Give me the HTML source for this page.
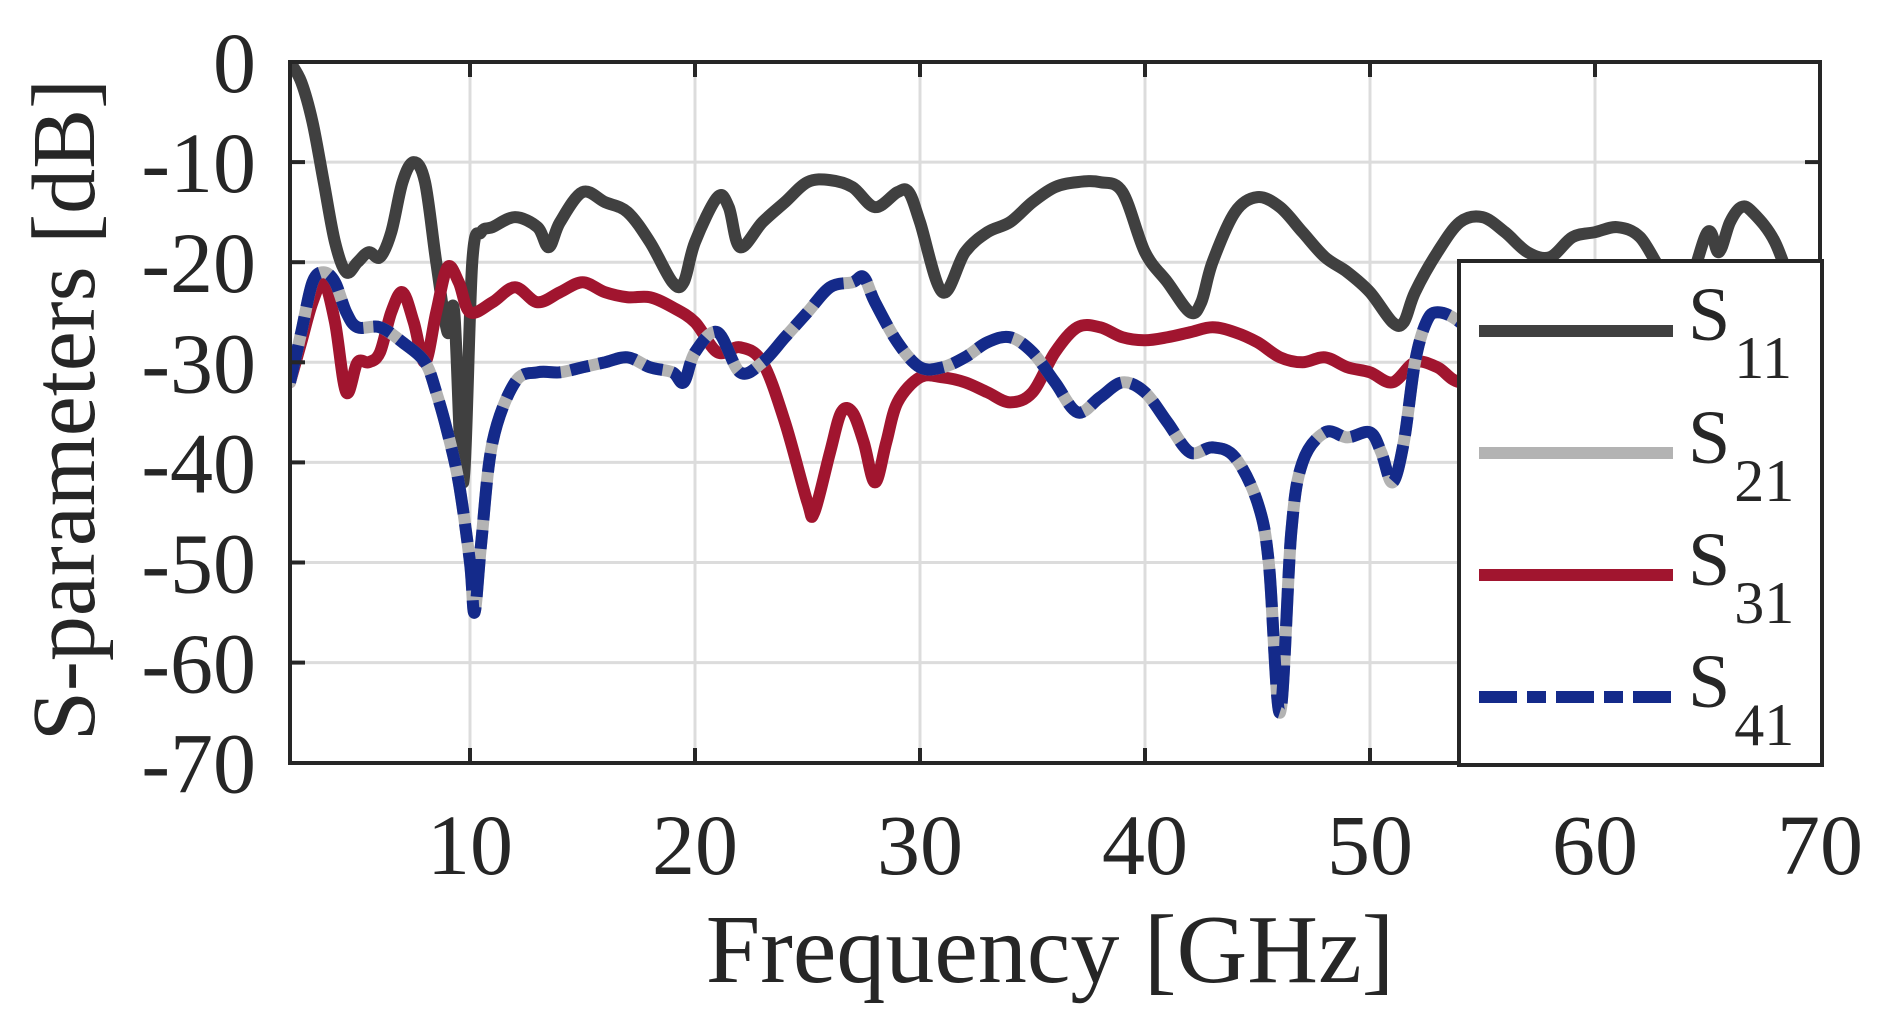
<!DOCTYPE html>
<html><head><meta charset="utf-8"><style>
html,body{margin:0;padding:0;background:#fff;}
svg{display:block;}
text{font-family:"Liberation Serif",serif;fill:#262626;}
</style></head><body>
<svg id="s" width="1883" height="1020" viewBox="0 0 1883 1020" xmlns="http://www.w3.org/2000/svg">
<defs><clipPath id="c"><rect x="290" y="62" width="1530" height="701"/></clipPath></defs>
<g id="grid" stroke="#dcdcdc" stroke-width="3"></g>
<g clip-path="url(#c)" fill="none" stroke-linejoin="round" stroke-linecap="round">
<path id="p11" stroke="#404040" stroke-width="12"/>
<path id="p31" stroke="#a1152f" stroke-width="12"/>
<path id="p21" stroke="#b3b3b3" stroke-width="12"/>
<path id="p41" stroke="#142a8a" stroke-width="12" stroke-linecap="butt" stroke-dasharray="38 10 19 10"/>
</g>
<rect x="290" y="62" width="1530" height="701" fill="none" stroke="#262626" stroke-width="4"/>
<g id="ticks" stroke="#262626" stroke-width="4"></g>
<g id="labels" font-size="86"></g>
<text x="1050" y="982" font-size="98" text-anchor="middle">Frequency [GHz]</text>
<text transform="translate(94,410) rotate(-90)" font-size="90" text-anchor="middle">S-parameters [dB]</text>
<rect x="1459" y="261" width="363" height="504" fill="#fff" stroke="#262626" stroke-width="4"/>
<g stroke-width="12">
<line x1="1479" y1="331" x2="1673" y2="331" stroke="#404040"/>
<line x1="1479" y1="453" x2="1673" y2="453" stroke="#b3b3b3"/>
<line x1="1479" y1="575" x2="1673" y2="575" stroke="#a1152f"/>
<line x1="1479" y1="697" x2="1673" y2="697" stroke="#142a8a" stroke-dasharray="38 10 19 10"/>
</g>
<g font-size="76" fill="#000">
<text x="1688" y="340">S<tspan font-size="60" dx="4" dy="38">11</tspan></text>
<text x="1688" y="463">S<tspan font-size="60" dx="4" dy="38">21</tspan></text>
<text x="1688" y="585">S<tspan font-size="60" dx="4" dy="38">31</tspan></text>
<text x="1688" y="707">S<tspan font-size="60" dx="4" dy="38">41</tspan></text>
</g>
</svg>
<script>
var NS="http://www.w3.org/2000/svg";
function X(f){return 290+(f-2)*22.5;}
function Y(d){return 62-d*10.01;}
var g=document.getElementById('grid'),t=document.getElementById('ticks'),L=document.getElementById('labels');
function el(p,tag,a,txt){var e=document.createElementNS(NS,tag);for(var k in a)e.setAttribute(k,a[k]);if(txt!=null)e.textContent=txt;p.appendChild(e);}
for(var f=10;f<=60;f+=10){el(g,'line',{x1:X(f),y1:62,x2:X(f),y2:763});el(t,'line',{x1:X(f),y1:62,x2:X(f),y2:77});el(t,'line',{x1:X(f),y1:763,x2:X(f),y2:748});}
for(var f=10;f<=70;f+=10)el(L,'text',{x:X(f),y:874,'text-anchor':'middle'},String(f));
for(var d=-10;d>=-60;d-=10){el(g,'line',{x1:290,y1:Y(d),x2:1820,y2:Y(d)});el(t,'line',{x1:290,y1:Y(d),x2:305,y2:Y(d)});el(t,'line',{x1:1820,y1:Y(d),x2:1805,y2:Y(d)});}
for(var d=0;d>=-70;d-=10)el(L,'text',{x:256,y:Y(d)+30,'text-anchor':'end'},d==0?'0':'-'+(-d));
function path(a){var p=[];for(var i=0;i<a.length;i+=2)p.push([X(a[i]),Y(a[i+1])]);
var s='M'+p[0][0]+' '+p[0][1];for(var i=0;i<p.length-1;i++){var p0=p[i-1]||p[i],p1=p[i],p2=p[i+1],p3=p[i+2]||p2;
s+=' C'+(p1[0]+(p2[0]-p0[0])/6)+' '+(p1[1]+(p2[1]-p0[1])/6)+' '+(p2[0]-(p3[0]-p1[0])/6)+' '+(p2[1]-(p3[1]-p1[1])/6)+' '+p2[0]+' '+p2[1];}return s;}
var s11=[2,0,2.5,-2,3,-6,3.5,-12,4,-18,4.5,-21,5,-20,5.5,-19,6,-19.5,6.5,-17,7,-12,7.5,-10,8,-12,8.5,-20,9,-27,9.3,-25,9.7,-42,10.1,-20,10.5,-17,11,-16.5,12,-15.5,13,-16.5,13.5,-18.5,14,-16,15,-13,16,-14,17,-15,18,-18,19,-22,19.5,-22,20,-18,21,-13.5,21.5,-14.5,22,-18.5,23,-16,24,-14,25,-12,26,-11.8,27,-12.5,28,-14.5,29,-13,29.5,-13,30,-16,31,-23,32,-19,33,-17,34,-16,35,-14,36,-12.5,37,-12,38,-12,39,-13,40,-19,41,-22,42,-25,42.5,-24,43,-20,44,-15,45,-13.5,46,-14.5,47,-17,48,-19.5,49,-21,50,-23,51,-26,51.5,-26,52,-23,53,-19,54,-16,55,-15.5,56,-17,57,-19,58,-19.5,59,-17.5,60,-17,61,-16.5,62,-17.5,63,-21,64,-23,65,-17,65.5,-19,66,-16,66.5,-14.5,67,-15,68,-18,69,-24,70,-29];
var s31=[2,-32,2.5,-28,3,-24,3.5,-22,4,-26,4.5,-33,5,-30,5.5,-30,6,-29,6.5,-25,7,-23,7.5,-26,8,-30,8.5,-25,9,-20.5,9.5,-22,10,-25,11,-24,12,-22.5,13,-24,14,-23,15,-22,16,-23,17,-23.5,18,-23.5,19,-24.5,20,-26,21,-29,22,-28.5,23,-30,24,-36,25,-44,25.3,-45,26,-39,26.5,-35,27,-35,27.5,-38,28,-42,28.5,-38,29,-34,30,-31.5,31,-31.5,32,-32,33,-33,34,-34,35,-33,36,-29,37,-26.5,38,-26.5,39,-27.5,40,-27.8,41,-27.5,42,-27,43,-26.5,44,-27,45,-28,46,-29.5,47,-30,48,-29.5,49,-30.5,50,-31,51,-32,52,-30,53,-30.5,54,-32,56,-32,58,-31,60,-30,62,-30,64,-29,66,-29,68,-29,70,-29];
var s41=[2,-32,2.5,-27,3,-22,3.5,-21,4,-22,4.5,-25,5,-26.5,6,-26.5,7,-28,8,-30,8.5,-33,9,-37,9.5,-42,10,-50,10.2,-55,10.5,-48,11,-38,12,-32,13,-31,14,-31,15,-30.5,16,-30,17,-29.5,18,-30.5,19,-31,19.5,-32,20,-29,21,-27,22,-31,23,-30,24,-27.5,25,-25,26,-22.5,27,-22,27.5,-21.5,28,-24,29,-28,30,-30.5,31,-30.5,32,-29.5,33,-28,34,-27.5,35,-29,36,-32,37,-35,38,-33.5,39,-32,40,-33,41,-36,42,-39,43,-38.5,44,-39.5,45,-44,45.5,-50,46,-65,46.5,-47,47,-40,48,-37,49,-37.5,50,-37,50.5,-39,51,-42,51.5,-38,52,-30,52.5,-26,53,-25,54,-26,56,-30,58,-33,60,-33,62,-33,64,-33,66,-35,68,-38,70,-40];
document.getElementById('p11').setAttribute('d',path(s11));
document.getElementById('p31').setAttribute('d',path(s31));
document.getElementById('p21').setAttribute('d',path(s41));
document.getElementById('p41').setAttribute('d',path(s41));
</script>
</body></html>
